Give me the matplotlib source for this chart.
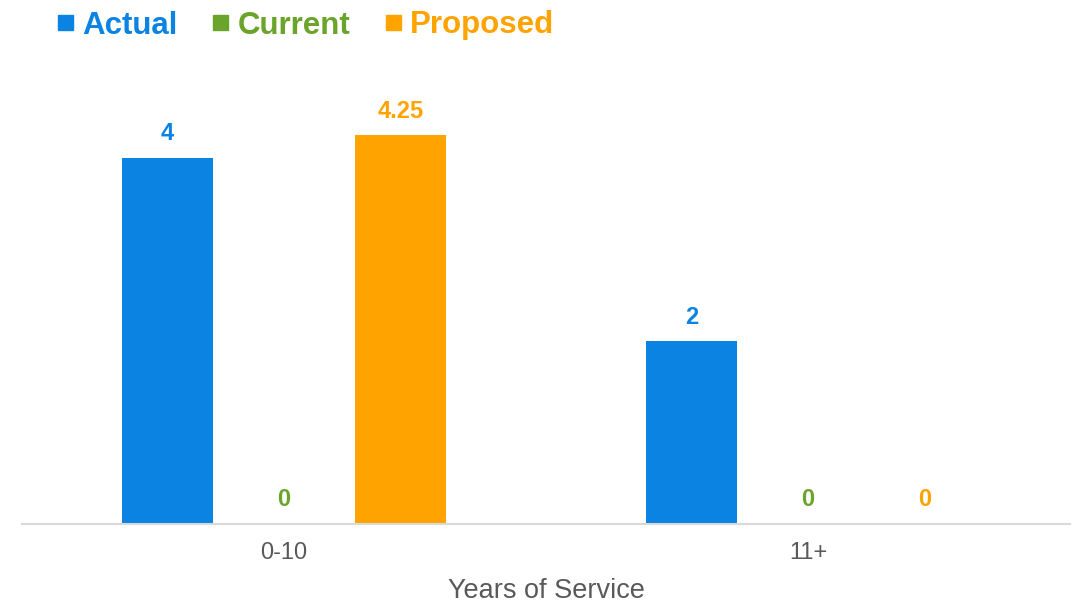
import matplotlib
matplotlib.use("Agg")
import matplotlib.pyplot as plt
from matplotlib.patches import Rectangle
import numpy as np

plt.rcParams['font.family'] = ['Liberation Sans', 'DejaVu Sans']

categories = ["0-10", "11+"]
series_names = ["Actual", "Current", "Proposed"]
actual = [4, 2]
current = [0, 0]
proposed = [4.25, 0]
colors = ["#0A83E2", "#6AA42A", "#FFA300"]

W, H = 1076, 604
fig = plt.figure(figsize=(W / 100, H / 100), dpi=100)
ax = fig.add_axes([22 / W, 80 / H, 1048 / W, 457.5 / H])

x = np.arange(len(categories))
width = 0.173
step = 0.222
for i, (vals, col) in enumerate(zip([actual, current, proposed], colors)):
    pos = x + (i - 1) * step
    ax.bar(pos, vals, width=width, color=col, zorder=2)
    for p, v in zip(pos, vals):
        ax.annotate(f"{v:g}", (p, v), xytext=(0, 9), textcoords="offset points",
                    ha="center", va="bottom", color=col, fontsize=17,
                    fontweight="bold")

ax.set_xlim(-0.5, 1.5)
ax.set_ylim(0, 5)
ax.set_xticks(x)
ax.set_xticklabels(categories, fontsize=17, color="#595959")
ax.tick_params(axis="x", length=0, pad=13)
ax.set_yticks([])
for s in ["top", "right", "left"]:
    ax.spines[s].set_visible(False)
ax.spines["bottom"].set_color("#D9D9D9")
ax.spines["bottom"].set_linewidth(1.5)
ax.set_xlabel("Years of Service", fontsize=19.5, color="#595959", labelpad=10)

# Legend row across the top, laid out in pixel units
renderer = fig.canvas.get_renderer()
x0 = 58
sq = 15
yc = 22
for name, col in zip(series_names, colors):
    fig.patches.append(Rectangle((x0 / W, 1 - (yc + sq / 2) / H), sq / W, sq / H,
                                 transform=fig.transFigure, color=col,
                                 figure=fig))
    t = fig.text((x0 + sq + 9) / W, 1 - yc / H, name, color=col,
                 fontsize=22.5, fontweight="bold", ha="left", va="center_baseline")
    bb = t.get_window_extent(renderer)
    x0 = bb.x1 + 36

fig.savefig("out.png", dpi=100)
